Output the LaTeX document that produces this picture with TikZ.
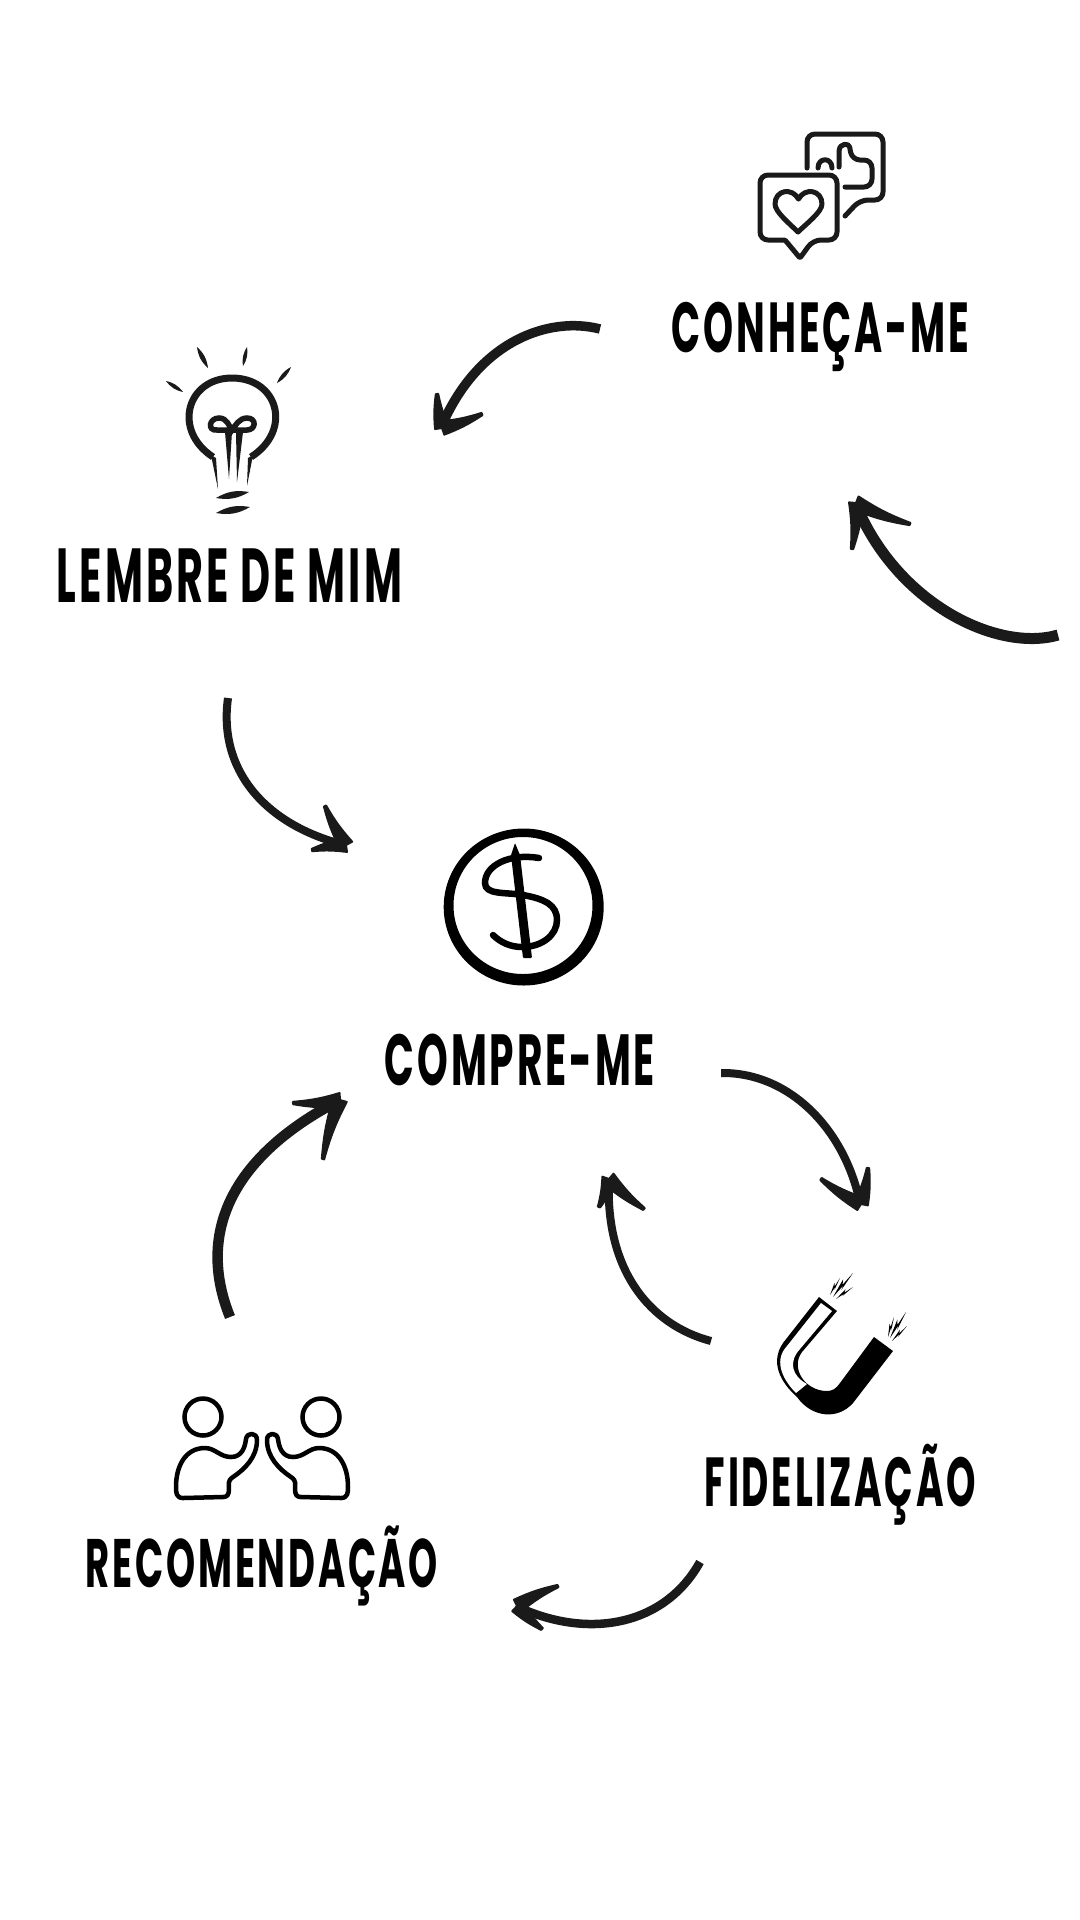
\documentclass[tikz,border=0pt]{standalone}
\usepackage{fontspec}
\usepackage{graphicx}
\usetikzlibrary{calc}
\newfontfamily\labelfont[FakeStretch=.54,LetterSpace=4]{Poppins}
\definecolor{ink}{HTML}{1A1A1A}
\newcommand{\barbhead}[3]{%
    \fill[head] ($(#1)!.7mm!90:(#2)$) to[bend left=6] ($(#2)!.12mm!-90:(#1)$) -- ($(#2)!.12mm!90:(#1)$) to[bend right=6] ($(#1)!.7mm!-90:(#2)$) -- cycle;
    \fill[head] ($(#1)!.7mm!90:(#3)$) to[bend right=6] ($(#3)!.12mm!-90:(#1)$) -- ($(#3)!.12mm!90:(#1)$) to[bend left=6] ($(#1)!.7mm!-90:(#3)$) -- cycle;
}
\newcommand{\spindle}[2]{\fill[ink] (#1) to[bend left=20] (#2) to[bend left=20] (#1);}
\newcommand{\bolt}[2]{\fill[black] (#1) -- ($(#1)!.65!10:(#2)$) -- ($(#1)!.5!2:(#2)$) -- (#2) -- ($(#1)!.35!-10:(#2)$) -- ($(#1)!.5!-2:(#2)$) -- cycle;}
\newcommand{\stagetext}[2]{\resizebox{#1}{!}{\labelfont\bfseries #2}}
\tikzset{person/.pic={
    \draw[iconline] (0,0) circle (18.5);
    \draw[iconline, line join=round] (-20,81) .. controls (-27,81) and (-27,75) .. (-27,70) .. controls (-27,48) and (-17,31) .. (2,31) .. controls (12,31) and (17,40) .. (28,40) .. controls (39,40) and (42,30) .. (43,22) .. controls (44,15) and (54,15) .. (54,23) .. controls (54,40) and (42,52) .. (30,60) .. controls (24,64) and (26,68) .. (26,72) .. controls (26,78) and (24,80) .. (20,80) -- cycle;
}}
\begin{document}
\begin{tikzpicture}[x=.01cm,y=-.01cm]
    \tikzstyle{every node}=[inner sep=0, outer sep=0];
    \tikzstyle{stage} = [anchor=base, text=black]
    \tikzstyle{curve} = [draw=ink, line width=.8mm]
    \tikzstyle{head} = [ink, draw=ink, line width=.2mm, line join=round]
    \tikzstyle{iconline} = [draw=black, line width=.45mm, line cap=round]
    \tikzstyle{bubble} = [draw=ink, line width=.5mm, line cap=round, line join=round]
    \tikzstyle{bulb} = [draw=ink, line width=.7mm, line cap=round]

    \useasboundingbox (0,0) rectangle (1080,1920);

    \node[stage] (Conheca) at (820.5,352) {\stagetext{29.7mm}{CONHEÇA-ME}};
    \node[stage] (Lembre) at (229.5,602) {\stagetext{34.5mm}{LEMBRE DE MIM}};
    \node[stage] (Compre) at (520,1085) {\stagetext{27mm}{COMPRE-ME}};
    \node[stage] (Fidelizacao) at (840.5,1506) {\stagetext{27.1mm}{FIDELIZAÇÃO}};
    \node[stage] (Recomendacao) at (262,1587) {\stagetext{35.2mm}{RECOMENDAÇÃO}};

    \coordinate (ConhecaOut) at (600,329);
    \coordinate (ConhecaIn) at (857,507);
    \coordinate (ConhecaTip) at (856,503);
    \coordinate (LembreIn) at (443,423);
    \coordinate (LembreTip) at (442,428);
    \coordinate (LembreOut) at (228,698);
    \coordinate (CompreTop) at (345,845);
    \coordinate (CompreTopTip) at (346,845);
    \coordinate (CompreOut) at (721,1073);
    \coordinate (FidelIn) at (860,1203);
    \coordinate (FidelTip) at (861,1204);
    \coordinate (FidelUp) at (711,1341);
    \coordinate (CompreUp) at (609,1180);
    \coordinate (CompreUpTip) at (609,1179);
    \coordinate (FidelOut) at (700,1562);
    \coordinate (RecomIn) at (518,1607);
    \coordinate (RecomTip) at (517,1606);
    \coordinate (RecomOut) at (230,1317);
    \coordinate (CompreLeft) at (338,1101);
    \coordinate (CompreLeftTip) at (340,1100);

    \draw[curve, line width=1.1mm] (1058,635) .. controls (1000,652) and (900,607) .. (ConhecaIn);
    \draw[curve, line width=.95mm] (ConhecaOut) .. controls (550,316) and (480,340) .. (LembreIn);
    \draw[curve] (LembreOut) .. controls (218,770) and (265,825) .. (CompreTop);
    \draw[curve] (CompreOut) .. controls (790,1072) and (845,1130) .. (FidelIn);
    \draw[curve] (FidelUp) .. controls (650,1325) and (605,1270) .. (CompreUp);
    \draw[curve, line width=.85mm] (FidelOut) .. controls (665,1625) and (590,1640) .. (RecomIn);
    \draw[curve, line width=1.05mm] (RecomOut) .. controls (195,1230) and (235,1155) .. (CompreLeft);

    \barbhead{ConhecaTip}{852,549}{910,524}
    \barbhead{LembreTip}{437,394}{482,414}
    \barbhead{CompreTopTip}{325,806}{312,850}
    \barbhead{FidelTip}{821,1179}{868,1168}
    \barbhead{CompreUpTip}{599,1207}{644,1209}
    \barbhead{RecomTip}{558,1586}{542,1629}
    \barbhead{CompreLeftTip}{293,1103}{323,1159}

    % bubbles
    \draw[bubble, rounded corners=.8mm] (807,168) -- (807,134) -- (883,134) -- (883,200) -- (860,200) [rounded corners=.1mm] -- (845,216);
    \draw[bubble, rounded corners=.8mm] (845,187) -- (872,187) -- (872,160) -- (852,160) [rounded corners=.2mm] -- (850,149) .. controls (849,143) and (840,143) .. (839,152) -- (839,167);
    \draw[bubble] (818,168) .. controls (818,157) and (832,157) .. (832,168);
    \draw[bubble, fill=white, rounded corners=.8mm] (760,175) -- (837,175) -- (837,240) -- (813,240) [rounded corners=.1mm] -- (800,258) -- (785,240) [rounded corners=.8mm] -- (760,240) -- cycle;
    \draw[bubble] (798,232) .. controls (790,224) and (775,212) .. (775,204) .. controls (775,190) and (792,187) .. (798.5,199) .. controls (805,187) and (822,190) .. (822,204) .. controls (822,212) and (806,224) .. (798,232) -- cycle;

    % lightbulb
    \draw[bulb, line cap=butt] (213,457) .. controls (172,430) and (187,378) .. (232,378) .. controls (278,378) and (293,430) .. (251,457);
    \fill[ink] (211,455) -- (216,458) -- (218,489) -- cycle;
    \fill[ink] (253,455) -- (248,458) -- (247,486) -- cycle;
    \draw[bulb, line width=.55mm] (217,430) .. controls (207,431) and (209,418) .. (219,418) .. controls (227,418) and (229,426) .. (232,430) .. controls (235,426) and (239,418) .. (247,418) .. controls (257,418) and (256,430) .. (247,430) -- (217,430);
    \fill[ink] (225,432) -- (232,432) -- (229,479) -- cycle;
    \fill[ink] (236,432) -- (243,432) -- (237,482) -- cycle;
    \spindle{197,347}{208,368}
    \spindle{247,347}{243,366}
    \spindle{291,367}{277,383}
    \spindle{166,381}{183,392}
    \spindle{216,498}{249,492}
    \spindle{216,513}{250,507}

    % coin
    \fill[black, even odd rule] (523.7,907) ellipse (80 and 78.5) (523,905.5) ellipse (69.5 and 68.5);
    \draw[line width=.65mm, line cap=round, black] (539,858) .. controls (510,853) and (485,865) .. (485,883) .. controls (485,895) and (505,892) .. (523,895) .. controls (545,899) and (557,905) .. (557,920) .. controls (557,935) and (542,947) .. (522,947) .. controls (510,947) and (500,942) .. (493,935);
    \fill[black, rounded corners=.1mm] (515,843) -- (520,855) -- (532,958) -- (523,958) -- (511,855) -- cycle;

    % magnet
    \fill[black] (819,1297) -- (837,1311) -- (802,1352) .. controls (790,1368) and (805,1391) .. (827,1391) .. controls (832,1391) and (836,1389) .. (840,1383) -- (874,1337) -- (893,1351) -- (853,1403) .. controls (838,1420) and (812,1418) .. (797,1397) .. controls (780,1382) and (770,1362) .. (783,1343) -- cycle;
    \fill[white] (821,1303) -- (832,1311) -- (800,1349) .. controls (788,1362) and (792,1376) .. (807,1384) -- (796,1393) .. controls (785,1382) and (772,1362) .. (787,1346) -- cycle;
    \bolt{830,1295}{840,1278}
    \bolt{833,1297}{853,1273}
    \bolt{836,1299}{853,1287}
    \bolt{888,1337}{894,1317}
    \bolt{890,1338}{906,1312}
    \bolt{892,1341}{907,1326}

    % people
    \pic at (203,1417) {person};
    \pic[xscale=-1] at (321,1417) {person};

\end{tikzpicture}
\end{document}
